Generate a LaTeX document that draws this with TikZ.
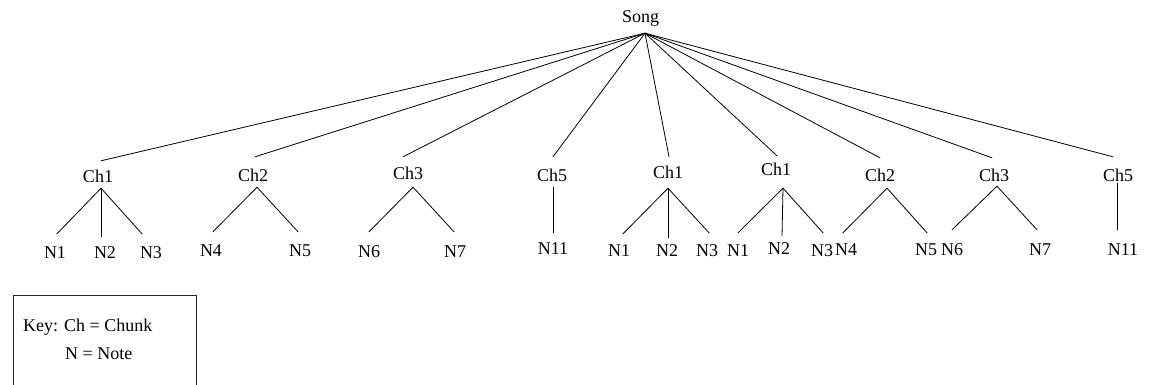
\documentclass[tikz,border=0pt]{standalone}
\usepackage{fontspec}
\setmainfont{Liberation Serif}
\begin{document}
\begin{tikzpicture}[x=1pt,y=-1pt,
  lbl/.style={anchor=base, inner sep=2pt, text height=22pt, text depth=4pt,
              font=\fontsize{18}{22}\selectfont},
  keytext/.style={anchor=base west, inner sep=0pt, font=\fontsize{18}{22}\selectfont},
  edge/.style={line width=0.8pt, line cap=round}]
\useasboundingbox (0,0) rectangle (1150,385);

% root
\node[lbl] (song) at (640.5,23) {Song};
\coordinate (hub) at ([shift={(4.5,4)}]song.south);

% chunks
\node[lbl] (c1) at (98,182) {Ch1};
\node[lbl] (c2) at (253,181) {Ch2};
\node[lbl] (c3) at (408,179) {Ch3};
\node[lbl] (c4) at (552,181) {Ch5};
\node[lbl] (c5) at (668,178) {Ch1};
\node[lbl] (c6) at (776,175) {Ch1};
\node[lbl] (c7) at (880,181) {Ch2};
\node[lbl] (c8) at (994,181) {Ch3};
\node[lbl] (c9) at (1118,181) {Ch5};

% notes
\node[lbl] (n1a) at (55,258) {N1};
\node[lbl] (n2a) at (105,258) {N2};
\node[lbl] (n3a) at (151,258) {N3};
\node[lbl] (n4a) at (211,256) {N4};
\node[lbl] (n5a) at (300,256) {N5};
\node[lbl] (n6a) at (369,257) {N6};
\node[lbl] (n7a) at (455,257) {N7};
\node[lbl] (n11a) at (553,254) {N11};
\node[lbl] (n1b) at (619,256) {N1};
\node[lbl] (n2b) at (667,256) {N2};
\node[lbl] (n3b) at (707,256) {N3};
\node[lbl] (n1c) at (738,256) {N1};
\node[lbl] (n2c) at (779,254) {N2};
\node[lbl] (n3c) at (822,256) {N3};
\node[lbl] (n4b) at (846,255) {N4};
\node[lbl] (n5b) at (926,255) {N5};
\node[lbl] (n6b) at (952,255) {N6};
\node[lbl] (n7b) at (1040,255) {N7};
\node[lbl] (n11b) at (1123,255) {N11};

% song to chunks
\draw[edge] (hub) -- ([shift={(3,3)}]c1.north);
\draw[edge] (hub) -- ([shift={(2,0)}]c2.north);
\draw[edge] (hub) -- ([shift={(-5,2)}]c3.north);
\draw[edge] (hub) -- ([shift={(1,0)}]c4.north);
\draw[edge] (hub) -- ([shift={(1,3)}]c5.north);
\draw[edge] (hub) -- ([shift={(1,5)}]c6.north);
\draw[edge] (hub) -- ([shift={(0,1)}]c7.north);
\draw[edge] (hub) -- ([shift={(-2,1)}]c8.north);
\draw[edge] (hub) -- ([shift={(-5,0)}]c9.north);

% chunks to notes
\draw[edge] ([shift={(3,0)}]c1.south) -- ([shift={(2,0)}]n1a.north);
\draw[edge] ([shift={(3,0)}]c1.south) -- ([shift={(-4,3)}]n2a.north);
\draw[edge] ([shift={(3,0)}]c1.south) -- ([shift={(-9,0)}]n3a.north);

\draw[edge] ([shift={(4,0)}]c2.south) -- ([shift={(2,0)}]n4a.north);
\draw[edge] ([shift={(4,0)}]c2.south) -- ([shift={(-2,0)}]n5a.north);

\draw[edge] ([shift={(5,2)}]c3.south) -- ([shift={(0,-1)}]n6a.north);
\draw[edge] ([shift={(5,2)}]c3.south) -- ([shift={(-1,-1)}]n7a.north);

\draw[edge] ([shift={(1,0)}]c4.south) -- ([shift={(0,3)}]n11a.north);

\draw[edge] ([shift={(0,4)}]c5.south) -- ([shift={(4,2)}]n1b.north);
\draw[edge] ([shift={(0,4)}]c5.south) -- ([shift={(1,6)}]n2b.north);
\draw[edge] ([shift={(0,4)}]c5.south) -- ([shift={(2,1)}]n3b.north);

\draw[edge] ([shift={(7,7)}]c6.south) -- ([shift={(0,1)}]n1c.north);
\draw[edge] ([shift={(7,7)}]c6.south) -- ([shift={(3,6)}]n2c.north);
\draw[edge] ([shift={(7,7)}]c6.south) -- ([shift={(1,1)}]n3c.north);

\draw[edge] ([shift={(7,1)}]c7.south) -- ([shift={(-3,2)}]n4b.north);
\draw[edge] ([shift={(7,1)}]c7.south) -- ([shift={(1,2)}]n5b.north);

\draw[edge] ([shift={(3,-1)}]c8.south) -- ([shift={(0,-1)}]n6b.north);
\draw[edge] ([shift={(3,-1)}]c8.south) -- ([shift={(-3,-1)}]n7b.north);

\draw[edge] ([shift={(-1,-4)}]c9.south) -- ([shift={(-6,-1)}]n11b.north);

% key box, running past the lower edge
\draw[line width=0.9pt, draw=black!85] (13,400) -- (13,295) -- (196,295) -- (196,400);
\node[keytext] (key1) at (23,331) {Key: Ch = Chunk};
\node[keytext] (key2) at (65,359) {N = Note};
\end{tikzpicture}
\end{document}
